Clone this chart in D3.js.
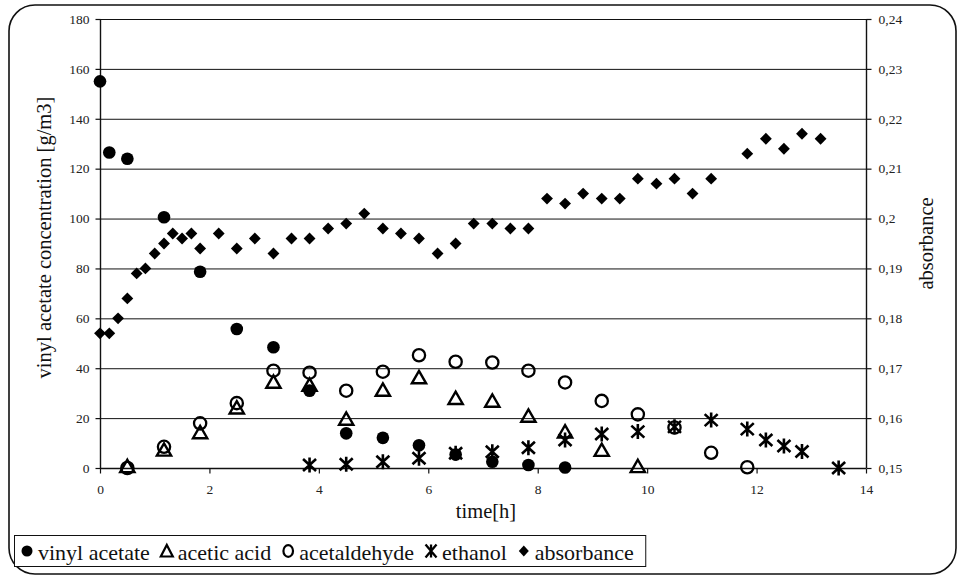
<!DOCTYPE html>
<html>
<head>
<meta charset="utf-8">
<script src="https://cdn.jsdelivr.net/npm/d3@7"></script>
<style>
  html, body { margin: 0; padding: 0; background: #fff; }
</style>
</head>
<body>
<svg id="chart" width="958" height="576"></svg>
<script>
// Sampling times [h]
const tVinyl = [0, 0.17, 0.5, 1.17, 1.83, 2.5, 3.17, 3.83, 4.5, 5.17, 5.83, 6.5, 7.17, 7.83, 8.5];
const vinylAcetate = [155, 126.5, 124, 100.5, 78.7, 55.7, 48.4, 31, 13.9, 12.1, 9.1, 5.4, 2.5, 1.2, 0.2];

const tAcid = [0.5, 1.17, 1.83, 2.5, 3.17, 3.83, 4.5, 5.17, 5.83, 6.5, 7.17, 7.83, 8.5, 9.17, 9.83];
const aceticAcid = [0, 6.6, 13.6, 23.5, 33.8, 32.6, 19, 30.6, 35.6, 27.3, 26.2, 20.2, 13.9, 6.5, 0];

const tAld = [0.5, 1.17, 1.83, 2.5, 3.17, 3.83, 4.5, 5.17, 5.83, 6.5, 7.17, 7.83, 8.5, 9.17, 9.83, 10.5, 11.17, 11.83];
const acetaldehyde = [0, 8.5, 17.9, 26, 39, 38.2, 31, 38.6, 45.2, 42.6, 42.3, 39, 34.3, 26.9, 21.5, 16.2, 6.1, 0.3];

const tEth = [3.83, 4.5, 5.17, 5.83, 6.5, 7.17, 7.83, 8.5, 9.17, 9.83, 10.5, 11.17, 11.83, 12.17, 12.5, 12.83, 13.5];
const ethanol = [1.2, 1.5, 2.5, 3.9, 5.9, 6.5, 8.1, 11.2, 13.6, 14.6, 16.5, 19.2, 15.6, 11.2, 8.8, 6.6, 0];

const tAbs = [0, 0.17, 0.33, 0.5, 0.67, 0.83, 1.0, 1.17, 1.33, 1.5, 1.67, 1.83, 2.17, 2.5, 2.83, 3.17, 3.5, 3.83,
              4.17, 4.5, 4.83, 5.17, 5.5, 5.83, 6.17, 6.5, 6.83, 7.17, 7.5, 7.83, 8.17, 8.5, 8.83, 9.17, 9.5, 9.83,
              10.17, 10.5, 10.83, 11.17, 11.83, 12.17, 12.5, 12.83, 13.17];
const absorbance = [0.177, 0.177, 0.180, 0.184, 0.189, 0.190, 0.193, 0.195, 0.197, 0.196, 0.197, 0.194, 0.197, 0.194,
                    0.196, 0.193, 0.196, 0.196, 0.198, 0.199, 0.201, 0.198, 0.197, 0.196, 0.193, 0.195, 0.199, 0.199,
                    0.198, 0.198, 0.204, 0.203, 0.205, 0.204, 0.204, 0.208, 0.207, 0.208, 0.205, 0.208, 0.213, 0.216,
                    0.214, 0.217, 0.216];

const xTicks = [0, 2, 4, 6, 8, 10, 12, 14];
const yTicks = [0, 20, 40, 60, 80, 100, 120, 140, 160, 180];
const y2Ticks = [0.15, 0.16, 0.17, 0.18, 0.19, 0.20, 0.21, 0.22, 0.23, 0.24];

const legendLabels = ["vinyl acetate", "acetic acid", "acetaldehyde", "ethanol", "absorbance"];

const FONT = "Liberation Serif";
const svg = d3.select("#chart");
const root = svg.append("g");
const plot = { left: 100, right: 866, top: 19, bottom: 468 };

// outer rounded frame
root.append("rect")
  .attr("x", 9).attr("y", 5).attr("width", 947).attr("height", 569)
  .attr("rx", 26).attr("ry", 26)
  .attr("fill", "#fff").attr("stroke", "#111").attr("stroke-width", 1.6);

const x = d3.scaleLinear().domain([0, 14]).range([plot.left, plot.right]);
const y = d3.scaleLinear().domain([0, 180]).range([plot.bottom, plot.top]);
const y2 = d3.scaleLinear().domain([0.15, 0.24]).range([plot.bottom, plot.top]);

// horizontal grid lines
root.append("g").selectAll("line").data(yTicks.filter(d => d > 0)).join("line")
  .attr("x1", plot.left).attr("x2", plot.right)
  .attr("y1", d => y(d) + 0.5).attr("y2", d => y(d) + 0.5)
  .attr("stroke", "#111").attr("stroke-width", 1);

const fmtComma = d => d3.format(".2~f")(d).replace(".", ",");

// left axis
const gy = root.append("g").attr("transform", `translate(${plot.left + 0.5},0)`)
  .call(d3.axisLeft(y).tickValues(yTicks).tickSize(5).tickPadding(6).tickFormat(d3.format("d")));
// right axis
const gy2 = root.append("g").attr("transform", `translate(${plot.right + 0.5},0)`)
  .call(d3.axisRight(y2).tickValues(y2Ticks).tickSize(5).tickPadding(7).tickFormat(fmtComma));
// bottom axis
const gx = root.append("g").attr("transform", `translate(0,${plot.bottom + 0.5})`)
  .call(d3.axisBottom(x).tickValues(xTicks).tickSize(5).tickPadding(11).tickFormat(d3.format("d")));

[gy, gy2, gx].forEach(g => {
  g.attr("font-family", null).attr("font-size", null);
  g.selectAll(".domain").attr("stroke", "#111").attr("stroke-width", 1.4);
  g.selectAll(".tick line").attr("stroke", "#111").attr("stroke-width", 1.2);
  g.selectAll(".tick text").attr("fill", "#222").style("font-size", "13.5px");
});
gx.select(".domain").attr("d", `M${plot.left},0H${plot.right}`);
gy.select(".domain").attr("d", `M0,${plot.top}V${plot.bottom}`);
gy2.select(".domain").attr("d", `M0,${plot.top}V${plot.bottom}`);

// axis titles
root.append("text")
  .attr("transform", `translate(44,${(plot.top + plot.bottom) / 2 - 6}) rotate(-90)`)
  .attr("text-anchor", "middle").attr("dominant-baseline", "central")
  .style("font-size", "20.5px").attr("fill", "#111")
  .text("vinyl acetate concentration [g/m3]");
root.append("text")
  .attr("transform", `translate(926,${(plot.top + plot.bottom) / 2}) rotate(-90)`)
  .attr("text-anchor", "middle").attr("dominant-baseline", "central")
  .style("font-size", "20.5px").attr("fill", "#111")
  .text("absorbance");
root.append("text")
  .attr("x", 486).attr("y", 518)
  .attr("text-anchor", "middle")
  .style("font-size", "20.5px").attr("fill", "#111")
  .text("time[h]");

// marker shapes
const sym = {
  circleFilled: d3.symbol().type(d3.symbolCircle).size(125),
  triangle: d3.symbol().type(d3.symbolTriangle).size(88),
  circleOpen: d3.symbol().type(d3.symbolCircle).size(118),
  diamond: d3.symbol().type(d3.symbolSquare).size(70)
};
function asterisk(w, h) {
  const a = w / 2, b = h / 2;
  return `M${-a},${-b * 0.8}L${a},${b * 0.8}M${-a},${b * 0.8}L${a},${-b * 0.8}M0,${-b}L0,${b}`;
}

const gm = root.append("g");

// acetaldehyde (open circles)
gm.append("g").selectAll("path").data(d3.zip(tAld, acetaldehyde)).join("path")
  .attr("d", sym.circleOpen())
  .attr("transform", d => `translate(${x(d[0])},${y(d[1])})`)
  .attr("fill", "none").attr("stroke", "#000").attr("stroke-width", 2.3);

// acetic acid (open triangles)
gm.append("g").selectAll("path").data(d3.zip(tAcid, aceticAcid)).join("path")
  .attr("d", sym.triangle())
  .attr("transform", d => `translate(${x(d[0])},${y(d[1])})`)
  .attr("fill", "none").attr("stroke", "#000").attr("stroke-width", 2.4);

// vinyl acetate (filled circles)
gm.append("g").selectAll("path").data(d3.zip(tVinyl, vinylAcetate)).join("path")
  .attr("d", sym.circleFilled())
  .attr("transform", d => `translate(${x(d[0])},${y(d[1])})`)
  .attr("fill", "#000");

// ethanol (asterisks)
gm.append("g").selectAll("path").data(d3.zip(tEth, ethanol)).join("path")
  .attr("d", asterisk(13, 15))
  .attr("transform", d => `translate(${x(d[0])},${y(d[1])})`)
  .attr("fill", "none").attr("stroke", "#000").attr("stroke-width", 2.6);

// absorbance (diamonds, right axis)
gm.append("g").selectAll("path").data(d3.zip(tAbs, absorbance)).join("path")
  .attr("d", sym.diamond())
  .attr("transform", d => `translate(${x(d[0])},${y2(d[1])}) rotate(45)`)
  .attr("fill", "#000");

// legend
const lg = root.append("g");
const legendBox = lg.append("rect")
  .attr("x", 14.5).attr("y", 535.5).attr("height", 31)
  .attr("fill", "#fff").attr("stroke", "#111").attr("stroke-width", 1);
const legendMarks = [
  g => g.append("circle").attr("r", 5.5).attr("fill", "#000"),
  g => g.append("path").attr("d", "M-6,5.5L0,-6L6,5.5Z").attr("fill", "none").attr("stroke", "#000").attr("stroke-width", 2.2),
  g => g.append("ellipse").attr("rx", 4.8).attr("ry", 5.8).attr("fill", "none").attr("stroke", "#000").attr("stroke-width", 2.2),
  g => g.append("path").attr("d", "M-5.5,-6.5L5.5,6.5M-5.5,6.5L5.5,-6.5M0,-6.5L0,6.5").attr("fill", "none").attr("stroke", "#000").attr("stroke-width", 2.3),
  g => g.append("path").attr("d", "M0,-5.5L5,0L0,5.5L-5,0Z").attr("fill", "#000")
];
const legendTexts = [];
legendLabels.forEach((label, i) => {
  const item = lg.append("g");
  legendMarks[i](item);
  legendTexts.push({ item, t: item.append("text").attr("x", 11).attr("y", 1)
    .attr("dominant-baseline", "central")
    .style("font-size", "22px").attr("fill", "#111").text(label) });
});

// serif face on every label
root.selectAll("text").attr("font-family", FONT).style("font-family", "'Liberation Serif', serif");

// lay out legend entries once the face is applied
let cx = 27;
legendTexts.forEach(({ item, t }) => {
  item.attr("transform", `translate(${cx},551)`);
  cx += 11 + t.node().getComputedTextLength() + 17;
});
legendBox.attr("width", cx - 17 + 12 - 14.5);
</script>
</body>
</html>
